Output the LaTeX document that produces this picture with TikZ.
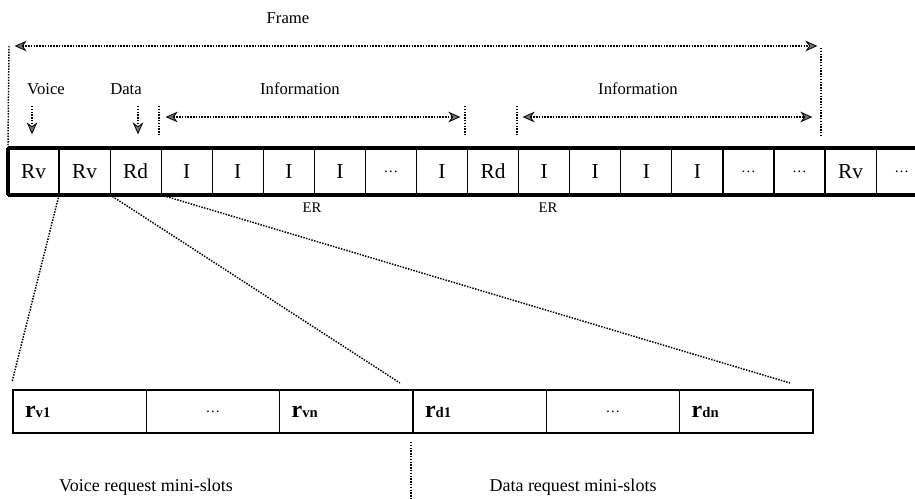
\documentclass[tikz,border=0pt]{standalone}
\usepackage{fontspec}
\setmainfont{Liberation Serif}
\usetikzlibrary{positioning, arrows.meta}
\tikzset{
  slot/.style = {draw, line width=0.9pt, minimum width=38.3pt, minimum height=35.2pt, inner sep=0pt, outer sep=0pt, font=\fontsize{16}{16}\selectfont},
  minislot/.style = {draw, line width=0.9pt, minimum width=100pt, minimum height=32.2pt, inner sep=0pt, outer sep=0pt, text width=82pt, align=left},
  lbl/.style = {font=\fontsize{12.5}{12.5}\selectfont, inner sep=0pt},
  sublbl/.style = {font=\fontsize{13.5}{13.5}\selectfont, inner sep=0pt},
  erlbl/.style = {font=\fontsize{11}{11}\selectfont, inner sep=0pt},
  dotline/.style = {densely dotted, line width=1.1pt},
  darrow/.style = {dotline, {Stealth[length=9pt, width=8pt, fill=black!55, line width=0.6pt, sep=-1pt]}-{Stealth[length=9pt, width=8pt, fill=black!55, line width=0.6pt, sep=-1pt]}},
  downarrow/.style = {dotline, -{Stealth[length=9pt, width=8pt, fill=black!55, line width=0.6pt, sep=-1pt]}},
  border/.style = {line width=2.4pt}
}
\newcommand{\slotdots}{{\fontsize{11}{11}\selectfont\dots}}
\newcommand{\mreq}[1]{{\fontsize{18}{18}\selectfont\bfseries r}{\fontsize{11}{11}\selectfont\bfseries #1}}

\begin{document}
\begin{tikzpicture}[x=0.75pt, y=-0.75pt]
    \useasboundingbox (0,0) rectangle (915,499);
    \node[slot] (s1) at (33.5,171.5) {Rv};
    \node[slot, right=0pt of s1] (s2) {Rv};
    \node[slot, right=0pt of s2] (s3) {Rd};
    \node[slot, right=0pt of s3] (s4) {I};
    \node[slot, right=0pt of s4] (s5) {I};
    \node[slot, right=0pt of s5] (s6) {I};
    \node[slot, right=0pt of s6] (s7) {I};
    \node[slot, right=0pt of s7] (s8) {\slotdots};
    \node[slot, right=0pt of s8] (s9) {I};
    \node[slot, right=0pt of s9] (s10) {Rd};
    \node[slot, right=0pt of s10] (s11) {I};
    \node[slot, right=0pt of s11] (s12) {I};
    \node[slot, right=0pt of s12] (s13) {I};
    \node[slot, right=0pt of s13] (s14) {I};
    \node[slot, right=0pt of s14] (s15) {\slotdots};
    \node[slot, right=0pt of s15] (s16) {\slotdots};
    \node[slot, right=0pt of s16] (s17) {Rv};
    \node[slot, right=0pt of s17] (s18) {\slotdots};
    \draw[border] (s1.north west) -- (s18.north east);
    \draw[border] (s1.south west) -- (s18.south east);
    \draw[border] (s1.north west) -- (s1.south west);

    \node[lbl] (frame) at (288,18) {Frame};
    \coordinate (fl) at (16,46);
    \coordinate (fr) at (816,46);
    \coordinate (ftl) at (9,46);
    \coordinate (ftr) at (821,48);
    \coordinate (fbr) at (821,136);
    \draw[darrow] (fl) -- (fr);
    \draw[dotline] (ftl) -- (s1.north west);
    \draw[dotline] (ftr) -- (fbr);

    \node[lbl] (voice) at (46,89) {Voice};
    \node[lbl] (data) at (126,89) {Data};
    \coordinate (va) at (32,106);
    \coordinate (vb) at (32,133);
    \coordinate (da) at (138,106);
    \coordinate (db) at (138,133);
    \draw[downarrow] (va) -- (vb);
    \draw[downarrow] (da) -- (db);

    \node[lbl] (info1) at (300,89) {Information};
    \node[lbl] (info2) at (638,89) {Information};
    \coordinate (sep1a) at (159,106);
    \coordinate (sep1b) at (159,136);
    \coordinate (sep2a) at (465,106);
    \coordinate (sep2b) at (465,136);
    \coordinate (sep3a) at (517,106);
    \coordinate (sep3b) at (517,136);
    \draw[dotline] (sep1a) -- (sep1b);
    \draw[dotline] (sep2a) -- (sep2b);
    \draw[dotline] (sep3a) -- (sep3b);
    \coordinate (ia1) at (167,117);
    \coordinate (ib1) at (459,117);
    \coordinate (ia2) at (524,117);
    \coordinate (ib2) at (811,117);
    \draw[darrow] (ia1) -- (ib1);
    \draw[darrow] (ia2) -- (ib2);

    \node[erlbl] (er1) at (312,208) {ER};
    \node[erlbl] (er2) at (548,208) {ER};

    \node[minislot] (b1) at (79.7,411.5) {\mreq{v1}};
    \node[minislot, align=center, right=0pt of b1] (b2) {\slotdots};
    \node[minislot, right=0pt of b2] (b3) {\mreq{vn}};
    \node[minislot, right=0pt of b3] (b4) {\mreq{d1}};
    \node[minislot, align=center, right=0pt of b4] (b5) {\slotdots};
    \node[minislot, right=0pt of b5] (b6) {\mreq{dn}};

    \coordinate (z1) at (12,382);
    \coordinate (z2) at (400,383);
    \coordinate (z3) at (790,383);
    \draw[dotline] (s1.south east) -- (z1);
    \draw[dotline] (s2.south east) -- (z2);
    \draw[dotline] (s3.south east) -- (z3);

    \coordinate (splita) at (411,442);
    \coordinate (splitb) at (411,499);
    \draw[dotline] (splita) -- (splitb);
    \node[sublbl] (vreq) at (146,487) {Voice request mini-slots};
    \node[sublbl] (dreq) at (573,487) {Data request mini-slots};
\end{tikzpicture}
\end{document}
